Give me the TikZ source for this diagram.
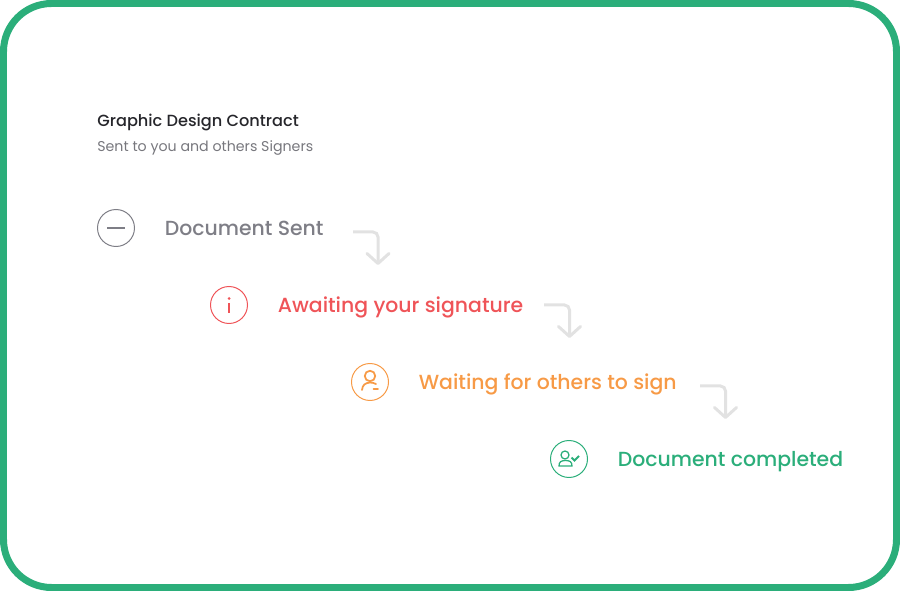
\documentclass[tikz,border=0pt]{standalone}
\usepackage{fontspec}
\setmainfont{Poppins}
\newfontfamily\medfont{Poppins Medium}
\usetikzlibrary{positioning,arrows.meta}
\definecolor{cGreen}{HTML}{2BAE7A}
\definecolor{cGray}{HTML}{7E7E86}
\definecolor{cRed}{HTML}{EF5458}
\definecolor{cOrange}{HTML}{F79A46}
\definecolor{cStep}{HTML}{E2E2E2}
\definecolor{cTitle}{HTML}{26262B}
\definecolor{cSub}{HTML}{77777D}
\tikzset{
  icon/.style={circle, draw=#1, line width=0.02cm, minimum size=0.74cm, inner sep=0},
  lab/.style={text=#1, inner sep=0, font=\medfont\fontsize{11.62}{13}\selectfont, text height=0.31cm, text depth=0.01cm},
  stepline/.style={draw=cStep, line width=0.06cm, rounded corners=0.1cm, -{Straight Barb[length=0.2cm,width=0.44cm,round]}},
}
\begin{document}
\begin{tikzpicture}[x=0.02cm, y=-0.02cm]
\useasboundingbox (0,0) rectangle (900,591);

% Rahmen
\draw[cGreen, line width=0.14cm, rounded corners=0.96cm] (3.5,3.5) rectangle (896.5,587.5);

% Titel
\node[anchor=base west, inner sep=0, text=cTitle, font=\medfont\fontsize{9.2}{11}\selectfont] (title) at (97,126.5) {Graphic Design Contract};
\node[anchor=base west, inner sep=0, text=cSub, font=\fontsize{8.08}{10}\selectfont] (sub) at (97,151.5) {Sent to you and others Signers};

% Stufen
\node[icon=cGray] (ic1) at (116,228) {};
\node[icon=cRed] (ic2) at (229,305) {};
\node[icon=cOrange] (ic3) at (370,382) {};
\node[icon=cGreen] (ic4) at (569,459) {};
\node[lab=cGray, right=0.59cm of ic1] (sent) {Document Sent};
\node[lab=cRed, right=0.59cm of ic2] (await) {Awaiting your signature};
\node[lab=cOrange, right=0.59cm of ic3] (wait) {Waiting for others to sign};
\node[lab=cGreen, right=0.59cm of ic4] (done) {Document completed};

% Pfeile
\coordinate (a1) at (353,232); \coordinate (b1) at (378,265);
\coordinate (a2) at (544,305); \coordinate (b2) at (569.5,338);
\coordinate (a3) at (700,386); \coordinate (b3) at (725.5,419);
\draw[stepline] (a1) -| (b1);
\draw[stepline] (a2) -| (b2);
\draw[stepline] (a3) -| (b3);

% Symbole
\draw[cGray, line width=0.04cm] (107,228) -- +(18,0);
\draw[cRed, line width=0.03cm] (229,303) -- +(0,10);
\fill[cRed] (229,298.5) circle (0.03cm);
\draw[cOrange, line width=0.035cm, line cap=round] (370,376) circle (0.105cm);
\draw[cOrange, line width=0.035cm, line cap=round] (362,390) .. controls (362.5,385) and (365,383) .. (370,382.5) .. controls (372,382.5) and (374,383) .. (376,384);
\draw[cOrange, line width=0.035cm, line cap=round] (373.5,389) -- +(4.5,0);
\draw[cGreen, line width=0.025cm] (565,455) circle (0.08cm);
\draw[cGreen, line width=0.025cm] (559,466) -- (572,466) .. controls (572,462) and (570,460.5) .. (565.5,460.5) .. controls (561,460.5) and (559,462) .. (559,466) -- cycle;
\draw[cGreen, line width=0.04cm] (571.5,457.5) -- (574.5,460.5) -- (579,456);
\end{tikzpicture}
\end{document}
